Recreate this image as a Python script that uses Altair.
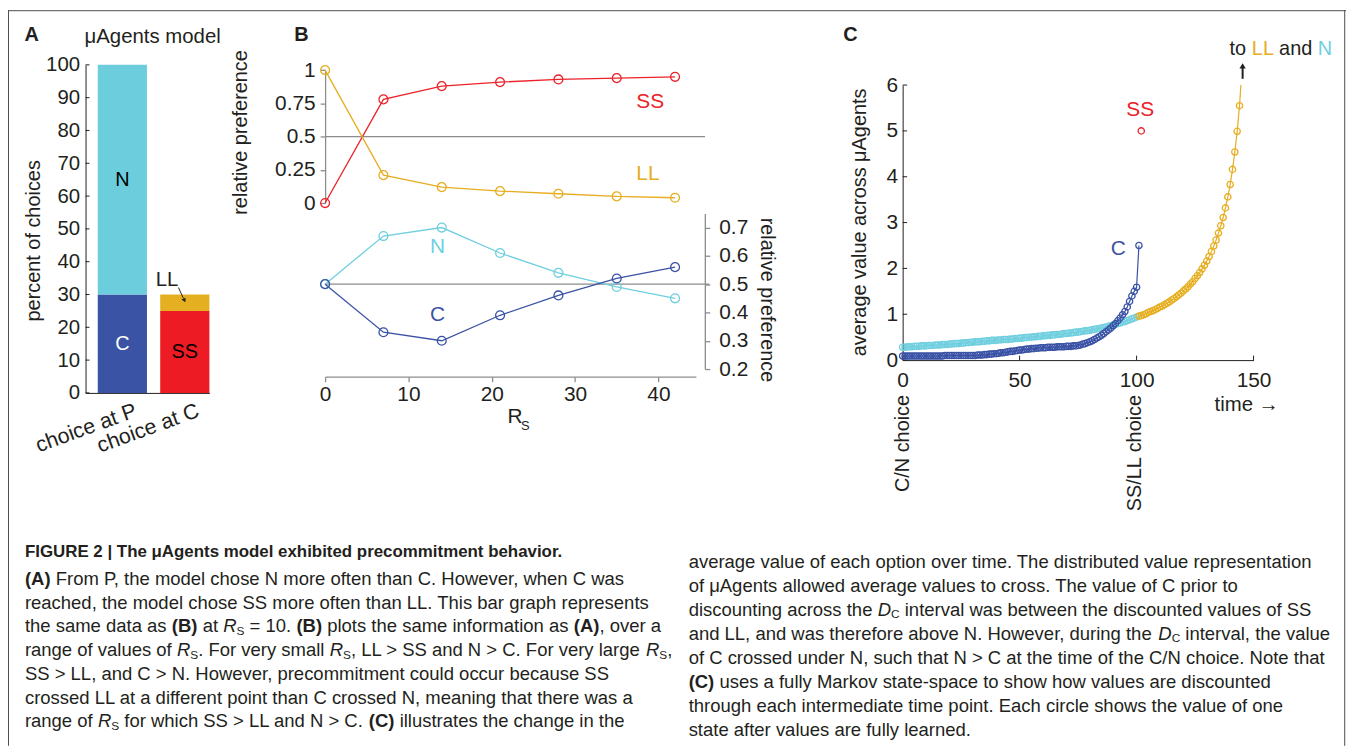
import re
import altair as alt
import pandas as pd

# ---------------- data ----------------
# Panel A: percent of choices (stacked)
a_groups = ["choice at P", "choice at P", "choice at C", "choice at C"]
a_options = ["C", "N", "SS", "LL"]
a_percent = [30, 70, 25, 5]
a_order = ["choice at P", "choice at C"]
a_yticks = [0, 10, 20, 30, 40, 50, 60, 70, 80, 90, 100]

# Panel B: relative preference vs R_S
b_rs = [0, 7, 14, 21, 28, 35, 42]
b_ss = [0.00, 0.78, 0.88, 0.91, 0.93, 0.94, 0.95]
b_ll = [1.00, 0.21, 0.12, 0.09, 0.07, 0.05, 0.04]
b_n = [0.50, 0.67, 0.70, 0.61, 0.54, 0.49, 0.45]
b_c = [0.50, 0.33, 0.30, 0.39, 0.46, 0.52, 0.56]
b_even = 0.5
b_xticks = [0, 10, 20, 30, 40]
b_top_ticks = [0, 0.25, 0.5, 0.75, 1]
b_bot_ticks = [0.2, 0.3, 0.4, 0.5, 0.6, 0.7]

# Panel C: average value across uAgents over time
c_n_time = list(range(0, 101))
c_n = [0.28, 0.28, 0.29, 0.29, 0.29, 0.30, 0.30, 0.30, 0.31, 0.31,
       0.31, 0.32, 0.32, 0.32, 0.33, 0.33, 0.33, 0.34, 0.34, 0.34,
       0.35, 0.35, 0.36, 0.36, 0.36, 0.37, 0.37, 0.38, 0.38, 0.39,
       0.39, 0.40, 0.40, 0.40, 0.41, 0.41, 0.42, 0.42, 0.43, 0.43,
       0.43, 0.44, 0.44, 0.45, 0.45, 0.45, 0.46, 0.46, 0.47, 0.47,
       0.48, 0.48, 0.49, 0.49, 0.50, 0.50, 0.51, 0.51, 0.52, 0.52,
       0.53, 0.53, 0.54, 0.54, 0.55, 0.55, 0.56, 0.56, 0.57, 0.58,
       0.58, 0.59, 0.59, 0.60, 0.61, 0.61, 0.62, 0.63, 0.64, 0.64,
       0.65, 0.66, 0.67, 0.68, 0.69, 0.70, 0.71, 0.72, 0.74, 0.75,
       0.77, 0.78, 0.80, 0.81, 0.83, 0.84, 0.86, 0.88, 0.90, 0.92,
       0.94]
c_c_time = list(range(0, 102))
c_c = [0.09, 0.09, 0.09, 0.09, 0.09, 0.09, 0.09, 0.09, 0.09, 0.09,
       0.09, 0.09, 0.09, 0.09, 0.09, 0.09, 0.09, 0.09, 0.10, 0.10,
       0.10, 0.10, 0.10, 0.10, 0.10, 0.10, 0.10, 0.10, 0.10, 0.10,
       0.10, 0.10, 0.11, 0.11, 0.11, 0.12, 0.12, 0.13, 0.13, 0.14,
       0.14, 0.15, 0.16, 0.16, 0.17, 0.18, 0.19, 0.19, 0.20, 0.21,
       0.22, 0.22, 0.23, 0.24, 0.24, 0.25, 0.25, 0.26, 0.26, 0.27,
       0.27, 0.27, 0.28, 0.28, 0.28, 0.28, 0.29, 0.29, 0.29, 0.29,
       0.30, 0.30, 0.30, 0.31, 0.31, 0.32, 0.33, 0.35, 0.36, 0.38,
       0.40, 0.42, 0.45, 0.48, 0.51, 0.54, 0.58, 0.62, 0.66, 0.70,
       0.75, 0.80, 0.86, 0.92, 0.99, 1.06, 1.16, 1.28, 1.40, 1.50,
       1.59, 2.50]
c_ll_time = list(range(101, 145))
c_ll = [0.96, 0.97, 0.99, 1.01, 1.04, 1.06, 1.08, 1.10, 1.13, 1.16,
        1.18, 1.21, 1.24, 1.27, 1.31, 1.34, 1.38, 1.42, 1.46, 1.51,
        1.55, 1.60, 1.66, 1.71, 1.78, 1.84, 1.91, 1.99, 2.07, 2.16,
        2.26, 2.37, 2.49, 2.62, 2.77, 2.93, 3.11, 3.32, 3.56, 3.83,
        4.16, 4.54, 4.99, 5.55]
c_ll_tail = [144.6, 6.0]     # where the LL line leaves the top of the axes
c_ss = [102, 5.0]
c_xticks = [0, 50, 100, 150]
c_yticks = [0, 1, 2, 3, 4, 5, 6]

# Caption (##heading##, **bold**, *italic*, ~subscript~)
cap_left = [
    "##FIGURE 2 | The \u03bcAgents model exhibited precommitment behavior.##",
    "**(A)** From P, the model chose N more often than C. However, when C was",
    "reached, the model chose SS more often than LL. This bar graph represents",
    "the same data as **(B)** at *R*~S~ = 10. **(B)** plots the same information as **(A)**, over a",
    "range of values of *R*~S~. For very small *R*~S~, LL > SS and N > C. For very large *R*~S~,",
    "SS > LL, and C > N. However, precommitment could occur because SS",
    "crossed LL at a different point than C crossed N, meaning that there was a",
    "range of *R*~S~ for which SS > LL and N > C. **(C)** illustrates the change in the",
]
cap_right = [
    "average value of each option over time. The distributed value representation",
    "of \u03bcAgents allowed average values to cross. The value of C prior to",
    "discounting across the *D*~C~ interval was between the discounted values of SS",
    "and LL, and was therefore above N. However, during the *D*~C~ interval, the value",
    "of C crossed under N, such that N > C at the time of the C/N choice. Note that",
    "**(C)** uses a fully Markov state-space to show how values are discounted",
    "through each intermediate time point. Each circle shows the value of one",
    "state after values are fully learned.",
]

# ---------------- styles ----------------
FONT = "Liberation Sans, Arial, Helvetica, sans-serif"
INK = "#231f20"
GRAY = "#8c8c8c"
RED, ORANGE, CYAN, BLUE = "#ec2229", "#e6ad1f", "#6fcfdf", "#3a52a5"
A_FILL = {"N": "#6ccedd", "C": "#3a53a4", "SS": "#ed1c24", "LL": "#e4b022"}
SERIES = {"SS": RED, "LL": ORANGE, "N": CYAN, "C": BLUE}
W, H = 1346, 740


def P(v):  # page pixel -> chart pixel (page margin is 8px)
    return v - 8


ONE = pd.DataFrame({"k": [0]})


def label(text, x, y, size=20, color=INK, weight="normal", align="center",
          baseline="middle", angle=0, style="normal"):
    return alt.Chart(ONE).mark_text(
        text=text, font=FONT, fontSize=size, color=color, fontWeight=weight,
        align=align, baseline=baseline, angle=angle, fontStyle=style,
    ).encode(x=alt.value(P(x)), y=alt.value(P(y)))


def seg(x1, y1, x2, y2, color=INK, width=1.0):
    return alt.Chart(ONE).mark_rule(color=color, strokeWidth=width).encode(
        x=alt.value(P(x1)), y=alt.value(P(y1)), x2=alt.value(P(x2)), y2=alt.value(P(y2)))


def head(x, y, angle, size, color=INK):
    return alt.Chart(ONE).mark_point(shape="triangle-down", filled=True, opacity=1,
                                     size=size, angle=angle, color=color).encode(
        x=alt.value(P(x)), y=alt.value(P(y)))


# ---------------- panel A ----------------
a_df = pd.DataFrame({"group": a_groups, "option": a_options, "percent": a_percent})
a_df["ord"] = range(len(a_df))
a_df["fill"] = a_df["option"].map(A_FILL)
a_df["top"] = a_df.groupby("group")["percent"].cumsum()
a_df["mid"] = a_df["top"] - a_df["percent"] / 2
a_df["label"] = [o if o != "LL" else "" for o in a_options]
a_df["ink"] = ["white" if o == "C" else "black" for o in a_options]

xa = alt.Scale(domain=a_order, range=[P(86), P(210.6)], paddingInner=0.212,
               paddingOuter=0.098, align=1)
ya = alt.Scale(domain=[0, 100], range=[P(393), P(63)])
xa_axis = alt.Axis(orient="bottom", offset=P(393) - H, title=None, domainColor=INK,
                   ticks=False, tickSize=0, labelAngle=340, labelAlign="right",
                   labelBaseline="top", labelPadding=7, labelOffset=10,
                   labelOverlap=False, labelFontSize=21.5)
ya_axis = alt.Axis(orient="left", offset=-P(86), values=a_yticks, ticks=False,
                   tickSize=0, labelPadding=6, domainColor=INK, labelFontSize=20.5,
                   title="percent of choices", titleAngle=270, titleX=34 - 86,
                   titleY=P(239.5), titleAlign="center", titleBaseline="middle")

a_bars = alt.Chart(a_df).mark_bar().encode(
    x=alt.X("group:N", scale=xa, axis=xa_axis),
    y=alt.Y("percent:Q", stack="zero", scale=ya, axis=ya_axis),
    color=alt.Color("fill:N", scale=None),
    order=alt.Order("ord:Q"),
)
a_text = alt.Chart(a_df).mark_text(font=FONT, fontSize=20, baseline="middle").encode(
    x=alt.X("group:N", scale=xa, axis=xa_axis),
    y=alt.Y("mid:Q", stack=None, scale=ya, axis=ya_axis),
    text="label:N",
    color=alt.Color("ink:N", scale=None),
)
a_tick = alt.Chart(pd.DataFrame({"v": a_yticks})).mark_rule(color=INK, strokeWidth=1).encode(
    y=alt.Y("v:Q", scale=ya, axis=ya_axis),
    x=alt.value(P(86)), x2=alt.value(P(90)),
)
panel_a = alt.layer(a_bars, a_text, a_tick)

# ---------------- panel B ----------------
xb = alt.Scale(domain=[0, 44.5], range=[P(327), P(700)])
yb_top = alt.Scale(domain=[0, 1], range=[P(202), P(68.3)])
yb_bot = alt.Scale(domain=[0.2, 0.75], range=[P(369), P(212.4)])
xb_axis = alt.Axis(orient="bottom", offset=P(376.7) - H, values=b_xticks, title=None,
                   domainColor=GRAY, tickColor=GRAY, tickSize=5, labelPadding=2,
                   labelFlush=False, domainWidth=1.3, tickWidth=1.3, labelFontSize=21)
yb_top_axis = alt.Axis(orient="left", offset=-P(327), values=b_top_ticks, format=".2~g",
                       domainColor=GRAY, tickColor=GRAY, tickSize=5, labelPadding=5,
                       domainWidth=1.3, tickWidth=1.3, labelFontSize=21,
                       title="relative preference", titleAngle=270, titleX=241.5 - 327,
                       titleY=P(130.5), titleAlign="center", titleBaseline="middle")
yb_bot_axis = alt.Axis(orient="right", offset=P(709) - W, values=b_bot_ticks, format=".2~g",
                       domainColor=GRAY, tickColor=GRAY, tickSize=5, labelPadding=9,
                       domainWidth=1.3, tickWidth=1.3, labelFontSize=21,
                       title="relative preference", titleAngle=90, titleX=771 - 709,
                       titleY=P(299), titleAlign="center", titleBaseline="middle")

b_top_df = pd.DataFrame({"rs": b_rs * 2, "pref": b_ss + b_ll,
                         "series": ["SS"] * len(b_rs) + ["LL"] * len(b_rs)})
b_top_df["ink"] = b_top_df["series"].map(SERIES)
b_bot_df = pd.DataFrame({"rs": b_rs * 2, "pref": b_n + b_c,
                         "series": ["N"] * len(b_rs) + ["C"] * len(b_rs)})
b_bot_df["ink"] = b_bot_df["series"].map(SERIES)


def b_layer(df, yscale, yaxis, ref_end):
    ref = alt.Chart(pd.DataFrame({"x0": [0], "x1": [ref_end], "y": [b_even]})).mark_rule(
        color=GRAY, strokeWidth=1.4).encode(
        x=alt.X("x0:Q", scale=xb, axis=xb_axis), x2="x1:Q",
        y=alt.Y("y:Q", scale=yscale, axis=yaxis))
    enc = dict(x=alt.X("rs:Q", scale=xb, axis=xb_axis),
               y=alt.Y("pref:Q", scale=yscale, axis=yaxis),
               color=alt.Color("ink:N", scale=None))
    line = alt.Chart(df).mark_line(strokeWidth=1.3).encode(**enc)
    pts = alt.Chart(df).mark_point(filled=False, size=80, strokeWidth=1.3, opacity=1).encode(**enc)
    return alt.layer(ref, line, pts)


panel_b = alt.layer(
    b_layer(b_top_df, yb_top, yb_top_axis, 45.6),
    b_layer(b_bot_df, yb_bot, yb_bot_axis, 46.1),
).resolve_scale(y="independent")

# ---------------- panel C ----------------
xc = alt.Scale(domain=[0, 150], range=[P(908), P(1261)])
yc = alt.Scale(domain=[0, 6], range=[P(360), P(83.3)])
xc_axis = alt.Axis(orient="bottom", offset=P(360) - H, values=c_xticks, ticks=False,
                   tickSize=0, labelPadding=10, labelFlush=False, title=None, domainColor=INK,
                   labelFontSize=21)
yc_axis = alt.Axis(orient="left", offset=-P(908), values=c_yticks, ticks=False, tickSize=0,
                   labelPadding=5, domainColor=INK, labelFontSize=21,
                   title="average value across \u03bcAgents", titleAngle=270,
                   titleX=865 - 908, titleY=P(221), titleAlign="center", titleBaseline="middle")


def c_series(times, vals, color, line_extra=None):
    df = pd.DataFrame({"t": times, "v": vals})
    ldf = df if line_extra is None else pd.concat(
        [df, pd.DataFrame({"t": [line_extra[0]], "v": [line_extra[1]]})], ignore_index=True)
    line = alt.Chart(ldf).mark_line(color=color, strokeWidth=1.2).encode(
        x=alt.X("t:Q", scale=xc, axis=xc_axis), y=alt.Y("v:Q", scale=yc, axis=yc_axis))
    pts = alt.Chart(df).mark_point(filled=False, size=40, strokeWidth=1.3, opacity=1,
                                   color=color).encode(
        x=alt.X("t:Q", scale=xc, axis=xc_axis), y=alt.Y("v:Q", scale=yc, axis=yc_axis))
    return [line, pts]


c_xtick = alt.Chart(pd.DataFrame({"v": c_xticks})).mark_rule(color=INK).encode(
    x=alt.X("v:Q", scale=xc, axis=xc_axis), y=alt.value(P(360)), y2=alt.value(P(355.5)))
c_ytick = alt.Chart(pd.DataFrame({"v": c_yticks})).mark_rule(color=INK).encode(
    y=alt.Y("v:Q", scale=yc, axis=yc_axis), x=alt.value(P(908)), x2=alt.value(P(912.5)))
c_ss_pt = alt.Chart(pd.DataFrame({"t": [c_ss[0]], "v": [c_ss[1]]})).mark_point(
    filled=False, size=40, strokeWidth=1.3, opacity=1, color=RED).encode(
    x=alt.X("t:Q", scale=xc, axis=xc_axis), y=alt.Y("v:Q", scale=yc, axis=yc_axis))

panel_c = alt.layer(
    c_xtick, c_ytick,
    *c_series(c_n_time, c_n, CYAN),
    *c_series(c_c_time, c_c, BLUE),
    *c_series(c_ll_time, c_ll, ORANGE, c_ll_tail),
    c_ss_pt,
)

# ---------------- caption layout (Helvetica/Arial advance widths) ----------------
HELV = {" ": 278, ",": 278, ".": 278, "(": 333, ")": 333, "-": 333, "/": 278,
        ">": 584, "<": 584, "=": 584, "|": 260, ":": 278, ";": 278, "\u03bc": 576}
HELV.update({d: 556 for d in "0123456789"})
HELV.update(dict(zip("ABCDEFGHIJKLMNOPQRSTUVWXYZ",
                     [667, 667, 722, 722, 667, 611, 778, 722, 278, 500, 667, 556, 833,
                      722, 778, 667, 778, 722, 667, 611, 722, 667, 944, 667, 667, 611])))
HELV.update(dict(zip("abcdefghijklmnopqrstuvwxyz",
                     [556, 556, 500, 556, 556, 278, 556, 556, 222, 222, 500, 222, 833,
                      556, 556, 556, 556, 333, 500, 278, 556, 500, 722, 500, 500, 500])))
HELV_B = {"(": 333, ")": 333, "A": 722, "B": 722, "C": 722, " ": 278}
FS = 18.6
FS_HEAD = 17.0
SUB = 0.64
TOKEN = re.compile(r"##(.+?)##|\*\*(.+?)\*\*|\*(.+?)\*|~(.+?)~|([^*~#]+)")
STY_CODES = ["h", "b", "i", "s", "r"]


def parse(line):
    out = []
    for m in TOKEN.finditer(line):
        for code, grp in zip(STY_CODES, m.groups()):
            if grp:
                out.append((grp, code))
                break
    return out


def size_of(sty):
    return {"s": FS * SUB, "h": FS_HEAD}.get(sty, FS)


def text_w(s, bold, size):
    tot = 0
    for ch in s:
        if bold:
            tot += HELV_B.get(ch, HELV.get(ch, 556) * 1.06)
        else:
            tot += HELV.get(ch, 556)
    return tot * size / 1000


cap_rows = []


def lay(lines, x0, ys):
    for line, y in zip(lines, ys):
        x = x0
        for txt, sty in parse(line):
            size = size_of(sty)
            body = txt.lstrip(" ")
            x += (len(txt) - len(body)) * HELV[" "] * size / 1000
            if body:
                cap_rows.append({"t": body, "x": P(x),
                                 "y": P(y + (4.5 if sty == "s" else 0)), "s": sty})
                x += text_w(body, sty in ("b", "h"), size)


lay(cap_left, 25, [553] + [580 + 23.9 * i for i in range(len(cap_left) - 1)])
lay(cap_right, 692.7, [563 + 24.1 * i for i in range(len(cap_right))])
cap_df = pd.DataFrame(cap_rows)

cap_layers = []
for sty, kw in [("r", {}), ("h", {"fontWeight": "bold", "fontSize": FS_HEAD}),
                ("b", {"fontWeight": "bold"}), ("i", {"fontStyle": "italic"}),
                ("s", {"fontSize": FS * SUB})]:
    sub = cap_df[cap_df["s"] == sty]
    if len(sub) == 0:
        continue
    props = dict(align="left", baseline="middle", font=FONT, fontSize=FS, color=INK)
    props.update(kw)
    cap_layers.append(alt.Chart(sub).mark_text(**props).encode(
        x=alt.X("x:Q", scale=None, axis=None),
        y=alt.Y("y:Q", scale=None, axis=None),
        text="t:N"))

# ---------------- annotations ----------------
notes = [
    label("A", 31.7, 33.3, weight="bold"),
    label("\u03bcAgents model", 153.5, 35, size=20.5),
    label("LL", 168, 279.5, size=20.5),
    seg(179.5, 287, 184.5, 298),
    head(185.5, 300, 335, 22),
    label("B", 303.3, 32.5, weight="bold"),
    label("SS", 654, 100, color=RED, size=21),
    label("LL", 651.7, 172.7, color=ORANGE, size=21),
    label("N", 440, 246.7, color=CYAN, size=21),
    label("C", 440, 314.3, color=BLUE, size=21),
    label("R", 518, 417.5, size=21),
    label("S", 528.5, 426, size=13),
    label("C", 855.5, 33.3, weight="bold"),
    label("SS", 1147, 108, color=RED, size=21),
    label("C", 1125, 248.3, color=BLUE, size=21),
    label("time \u2192", 1221.7, 405, align="left", size=20.5),
    label("C/N choice", 908.3, 395, align="right", angle=270),
    label("SS/LL choice", 1142, 395, align="right", angle=270),
    label("to", 1236.7, 47.3, align="left"),
    label("LL", 1259.3, 47.3, align="left", color=ORANGE),
    label("and", 1286.7, 47.3, align="left"),
    label("N", 1325.7, 47.3, align="left", color=CYAN),
    seg(1250, 77, 1250, 66, width=2),
    alt.Chart(ONE).mark_point(shape="triangle-up", filled=True, opacity=1, size=40,
                              color=INK).encode(x=alt.value(P(1250)), y=alt.value(P(64))),
]

FRAME = "#4d4d4d"
frame = [
    alt.Chart(ONE).mark_rule(color=FRAME, strokeWidth=1).encode(
        x=alt.value(0.5), y=alt.value(0), y2=alt.value(H)),
    alt.Chart(ONE).mark_rule(color=FRAME, strokeWidth=1).encode(
        x=alt.value(0), x2=alt.value(W), y=alt.value(0.5)),
    alt.Chart(ONE).mark_rule(color=FRAME, strokeWidth=1).encode(
        x=alt.value(P(1352.7)), y=alt.value(0), y2=alt.value(H)),
]

chart = alt.layer(
    panel_a, panel_b, panel_c, *cap_layers, *notes, *frame
).resolve_scale(
    x="independent", y="independent"
).properties(
    width=W, height=H, autosize=alt.AutoSizeParams(type="none"), padding=0,
    background="white",
).configure_view(stroke=None).configure_axis(
    grid=False, labelFont=FONT, titleFont=FONT, labelFontSize=20, titleFontSize=20,
    titleFontWeight="normal", labelColor=INK, titleColor=INK,
)

chart.save("out.html", embed_options={"renderer": "svg", "actions": False})
